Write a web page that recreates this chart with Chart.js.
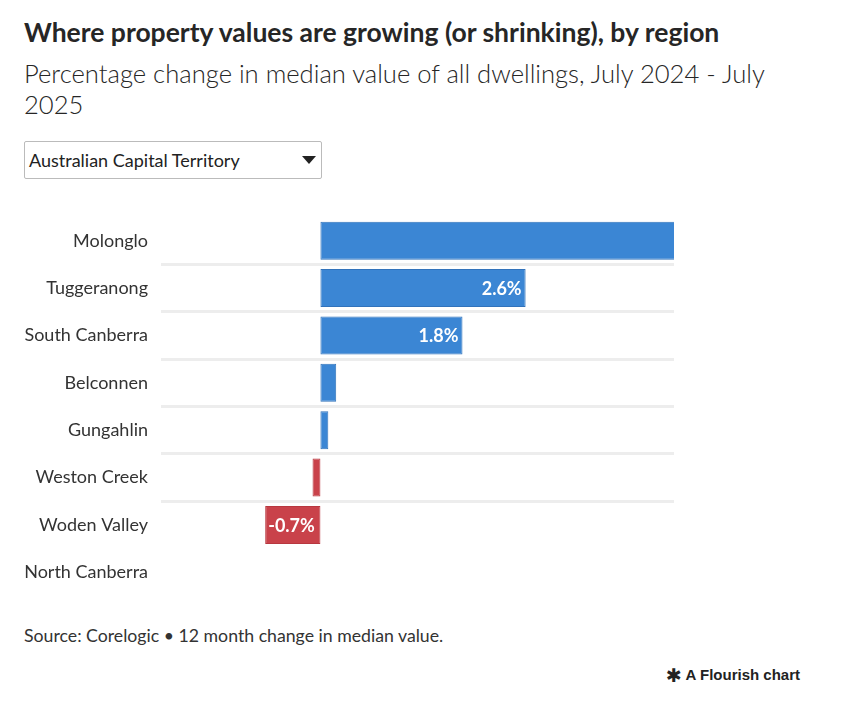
<!DOCTYPE html>
<html>
<head>
<meta charset="utf-8">
<script src="https://cdn.jsdelivr.net/npm/chart.js@4.4.1/dist/chart.umd.min.js"></script>
<style>
  body { margin: 0; background: #fff; font-family: Lato, "Noto Sans", sans-serif; color: #333; }
  .title { position: absolute; left: 24px; top: 16px; font-size: 26.5px; font-weight: 700; color: #262626; white-space: nowrap; }
  .subtitle { position: absolute; left: 24px; top: 58px; font-size: 25.6px; font-weight: 300; line-height: 31px; color: #262626; white-space: nowrap; }
  .dropdown { position: absolute; left: 24px; top: 141px; width: 298px; height: 38px; border: 1px solid #bbb; border-radius: 2px; box-sizing: border-box; }
  .dropdown span { position: absolute; left: 4px; top: 7px; font-size: 18px; color: #222; }
  .dropdown i { position: absolute; left: 277px; top: 14px; width: 0; height: 0; border-left: 7px solid transparent; border-right: 7px solid transparent; border-top: 8px solid #222; }
  #wrap { position: absolute; left: 0; top: 217px; width: 674px; height: 379px; }
  .source { position: absolute; left: 24px; top: 625px; font-size: 17.7px; color: #333; white-space: nowrap; }
  .brand { position: absolute; left: 666px; top: 664px; font-family: "Liberation Sans", Arial, sans-serif; font-weight: 700; font-size: 15px; color: #222; white-space: nowrap; }
  .brand b { font-family: "DejaVu Sans", sans-serif; font-size: 19px; vertical-align: -2px; }
</style>
</head>
<body>
<div class="title">Where property values are growing (or shrinking), by region</div>
<div class="subtitle">Percentage change in median value of all dwellings, July 2024 - July<br>2025</div>
<div class="dropdown"><span>Australian Capital Territory</span><i></i></div>
<div id="wrap"><canvas id="bars"></canvas></div>
<div class="source">Source: Corelogic • 12 month change in median value.</div>
<div class="brand"><b>✱</b> A Flourish chart</div>
<script>
// regions, top to bottom
var regions = ["Molonglo", "Tuggeranong", "South Canberra", "Belconnen", "Gungahlin", "Weston Creek", "Woden Valley", "North Canberra"];
// % change July 2024 - July 2025 (North Canberra has no bar in the picture)
var change = [4.5, 2.6, 1.8, 0.2, 0.1, -0.1, -0.7, null];
// labels shown inside the bars
var barLabels = ["", "2.6%", "1.8%", "", "", "", "-0.7%", ""];

var blue = "#3b86d4", red = "#c9424a";

var insideLabels = {
    id: "insideLabels",
    afterDatasetsDraw: function(chart) {
        var ctx = chart.ctx;
        var meta = chart.getDatasetMeta(0);
        ctx.save();
        ctx.font = "bold 18px Lato";
        ctx.fillStyle = "#fff";
        ctx.textBaseline = "middle";
        meta.data.forEach(function(bar, i) {
            if (!barLabels[i]) return;
            if (change[i] >= 0) {
                ctx.textAlign = "right";
                ctx.fillText(barLabels[i], bar.x - 4, bar.y + 1);
            } else {
                ctx.textAlign = "left";
                ctx.fillText(barLabels[i], bar.x + 3, bar.y + 1);
            }
        });
        ctx.restore();
    }
};

new Chart(document.getElementById("bars"), {
    type: "bar",
    data: {
        labels: regions,
        datasets: [{
            data: change,
            backgroundColor: change.map(function(v) { return v < 0 ? red : blue; }),
            borderColor: change.map(function(v) { return v < 0 ? "#b8373f" : "#3273bb"; }),
            borderWidth: 1,
            borderSkipped: false,
            barPercentage: 0.8,
            categoryPercentage: 1
        }]
    },
    options: {
        indexAxis: "y",
        responsive: true,
        maintainAspectRatio: false,
        animation: false,
        layout: { padding: 0 },
        plugins: {
            legend: { display: false },
            tooltip: { enabled: false }
        },
        scales: {
            x: {
                display: false,
                min: -2.02,
                max: 4.48
            },
            y: {
                afterFit: function(scale) {
                    scale.width = 161;
                    scale.paddingTop = 0;
                    scale.paddingBottom = 0;
                },
                border: { display: false },
                grid: {
                    offset: true,
                    drawTicks: false,
                    lineWidth: 3,
                    color: function(c) {
                        return (c.index >= 1 && c.index <= 6) ? "#ededed" : "rgba(0,0,0,0)";
                    }
                },
                ticks: {
                    padding: 13,
                    color: "#333",
                    font: { family: "Lato", size: 18 }
                }
            }
        }
    },
    plugins: [insideLabels]
});
</script>
</body>
</html>
